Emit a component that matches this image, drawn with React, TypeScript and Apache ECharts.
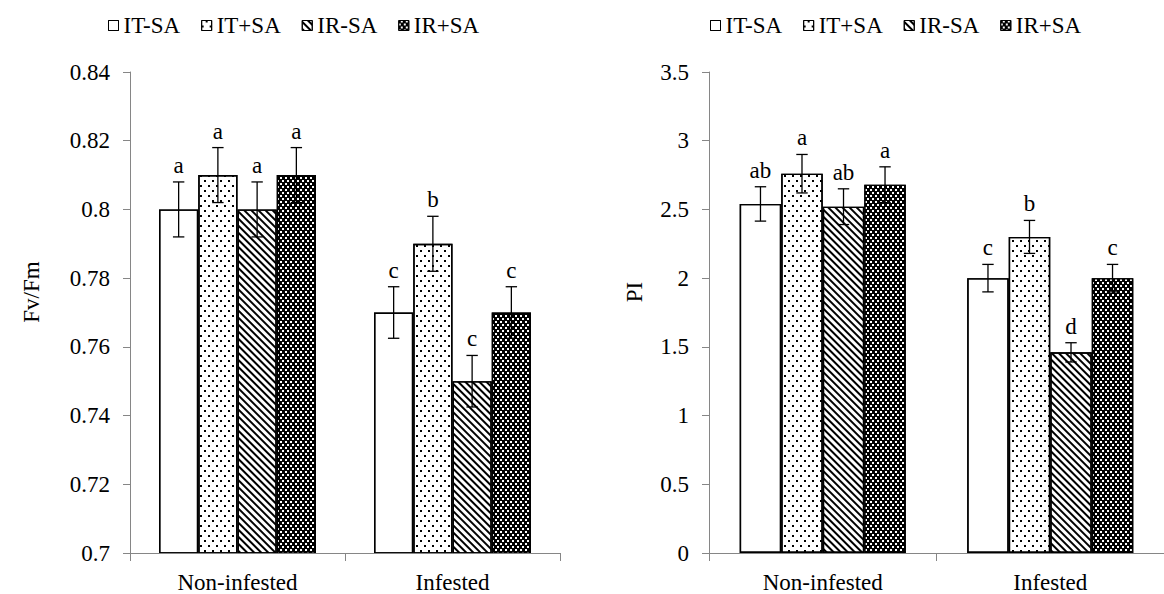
import React, { useEffect, useRef } from "react";
import * as echarts from "echarts";

const categories = ["Non-infested", "Infested"];
const seriesNames = ["IT-SA", "IT+SA", "IR-SA", "IR+SA"];

// values per series: [Non-infested, Infested]
const fvfmValues = [
  [0.8, 0.77],
  [0.81, 0.79],
  [0.8, 0.75],
  [0.81, 0.77],
];
const fvfmErrors = [
  [0.008, 0.0075],
  [0.008, 0.008],
  [0.008, 0.0075],
  [0.008, 0.0075],
];
const fvfmLetters = [
  ["a", "c"],
  ["a", "b"],
  ["a", "c"],
  ["a", "c"],
];

const piValues = [
  [2.54, 2.0],
  [2.76, 2.3],
  [2.52, 1.46],
  [2.68, 2.0],
];
const piErrors = [
  [0.125, 0.1],
  [0.14, 0.12],
  [0.13, 0.07],
  [0.13, 0.1],
];
const piLetters = [
  ["ab", "c"],
  ["a", "b"],
  ["ab", "d"],
  ["a", "c"],
];

const fvfmAxis = { min: 0.7, max: 0.84, interval: 0.02 };
const piAxis = { min: 0, max: 3.5, interval: 0.5 };

const FONT = "Liberation Serif";
const FS = 23;
const GAP = 0.27;
const AXIS_GRAY = "#868686";

const decals: any[] = [
  {
    symbol: "rect",
    symbolSize: 1,
    symbolKeepAspect: false,
    color: "rgba(0,0,0,0)",
    backgroundColor: null,
    dashArrayX: [1, 0],
    dashArrayY: [1, 0],
    rotation: 0,
  },
  {
    symbol: "rect",
    symbolSize: 1,
    symbolKeepAspect: false,
    color: "#000",
    backgroundColor: null,
    dashArrayX: [
      [2, 6],
      [0, 4, 2, 2],
    ],
    dashArrayY: [2, 2.5],
    rotation: 0,
  },
  {
    symbol: "rect",
    symbolSize: 1,
    symbolKeepAspect: false,
    color: "#000",
    backgroundColor: null,
    dashArrayX: [1, 0],
    dashArrayY: [1.1, 2.2],
    rotation: Math.PI / 4,
  },
  {
    symbol: "rect",
    symbolSize: 1,
    symbolKeepAspect: false,
    color: "#fff",
    backgroundColor: null,
    dashArrayX: [
      [1.5, 2.5],
      [0, 2, 1.5, 0.5],
    ],
    dashArrayY: [1.5, 0.5],
    rotation: 0,
  },
];
const barColors = ["#fff", "#fff", "#fff", "#000"];

function barSeries(gridIdx: number, values: number[][]) {
  return values.map((vals, s) => ({
    name: seriesNames[s],
    type: "bar",
    xAxisIndex: gridIdx,
    yAxisIndex: gridIdx,
    barGap: "0%",
    barCategoryGap: GAP * 100 + "%",
    data: vals,
    z: 2,
    itemStyle: {
      color: barColors[s],
      borderColor: "#000",
      borderWidth: 1.4,
      decal: decals[s],
    },
  }));
}

function errorSeries(gridIdx: number, values: number[][], errors: number[][], letters: string[][]) {
  const data: number[][] = [];
  const labels: string[] = [];
  values.forEach((vals, s) =>
    vals.forEach((v, c) => {
      data.push([c, v, errors[s][c], s]);
      labels.push(letters[s][c]);
    })
  );
  return {
    name: "err" + gridIdx,
    type: "custom",
    xAxisIndex: gridIdx,
    yAxisIndex: gridIdx,
    z: 10,
    silent: true,
    encode: { x: 0, y: 1 },
    data,
    renderItem: (params: any, api: any) => {
      const c = api.value(0);
      const v = api.value(1);
      const e = api.value(2);
      const s = api.value(3);
      const catW = api.size([1, 0])[0];
      const groupW = catW * (1 - GAP);
      const bw = groupW / 4;
      const cx = api.coord([c, v])[0] - groupW / 2 + bw * (s + 0.5);
      const yTop = api.coord([c, v + e])[1];
      const yBot = api.coord([c, v - e])[1];
      const half = 5.7;
      const ls = { stroke: "#000", lineWidth: 1.3 };
      return {
        type: "group",
        children: [
          { type: "line", shape: { x1: cx, y1: yTop, x2: cx, y2: yBot }, style: ls },
          { type: "line", shape: { x1: cx - half, y1: yTop, x2: cx + half, y2: yTop }, style: ls },
          { type: "line", shape: { x1: cx - half, y1: yBot, x2: cx + half, y2: yBot }, style: ls },
          {
            type: "text",
            x: cx,
            y: yTop - 5,
            style: {
              text: labels[params.dataIndex],
              textAlign: "center",
              textVerticalAlign: "bottom",
              fontFamily: FONT,
              fontSize: FS,
              fill: "#000",
            },
          },
        ],
      };
    },
  };
}

function xAxis(gridIdx: number) {
  return {
    type: "category",
    gridIndex: gridIdx,
    data: categories,
    z: 5,
    axisLine: { show: true, lineStyle: { color: AXIS_GRAY, width: 1 } },
    axisTick: { show: true, length: 8, lineStyle: { color: AXIS_GRAY } },
    axisLabel: { color: "#000", fontFamily: FONT, fontSize: FS, margin: 18 },
    splitLine: { show: false },
  };
}

function yAxis(gridIdx: number, ax: { min: number; max: number; interval: number }) {
  return {
    type: "value",
    gridIndex: gridIdx,
    min: ax.min,
    max: ax.max,
    interval: ax.interval,
    axisLine: { show: true, lineStyle: { color: AXIS_GRAY, width: 1 } },
    axisTick: { show: true, length: 7, lineStyle: { color: AXIS_GRAY } },
    axisLabel: { color: "#000", fontFamily: FONT, fontSize: FS, margin: 20 },
    splitLine: { show: false },
  };
}

function legend(left: number) {
  return {
    left,
    top: 9,
    orient: "horizontal",
    data: seriesNames,
    icon: "rect",
    itemWidth: 10,
    itemHeight: 10,
    itemGap: 21,
    selectedMode: false,
    textStyle: { color: "#000", fontFamily: FONT, fontSize: FS },
    itemStyle: { borderColor: "#000", borderWidth: 1 },
  };
}

export default function App() {
  const ref = useRef<HTMLDivElement>(null);
  useEffect(() => {
    if (!ref.current) return;
    const chart = echarts.init(ref.current, undefined, { renderer: "svg" });
    const option: any = {
      animation: false,
      backgroundColor: "#fff",
      aria: { enabled: true, decal: { show: true } },
      textStyle: { fontFamily: FONT },
      legend: [legend(103), legend(705)],
      grid: [
        { left: 130, top: 72, width: 430, height: 481 },
        { left: 709, top: 72, width: 462, height: 481 },
      ],
      xAxis: [xAxis(0), xAxis(1)],
      yAxis: [yAxis(0, fvfmAxis), yAxis(1, piAxis)],
      graphic: [
        {
          type: "text",
          x: 31,
          y: 292,
          rotation: Math.PI / 2,
          style: {
            text: "Fv/Fm",
            textAlign: "center",
            textVerticalAlign: "middle",
            fontFamily: FONT,
            fontSize: FS,
            fill: "#000",
          },
        },
        {
          type: "text",
          x: 634,
          y: 292,
          rotation: Math.PI / 2,
          style: {
            text: "PI",
            textAlign: "center",
            textVerticalAlign: "middle",
            fontFamily: FONT,
            fontSize: FS,
            fill: "#000",
          },
        },
      ],
      series: [
        ...barSeries(0, fvfmValues),
        ...barSeries(1, piValues),
        errorSeries(0, fvfmValues, fvfmErrors, fvfmLetters),
        errorSeries(1, piValues, piErrors, piLetters),
      ],
    };
    chart.setOption(option);
    return () => chart.dispose();
  }, []);
  return (
    <div
      ref={ref}
      style={{ position: "fixed", left: 0, top: 0, width: 1164, height: 594, background: "#fff" }}
    />
  );
}
